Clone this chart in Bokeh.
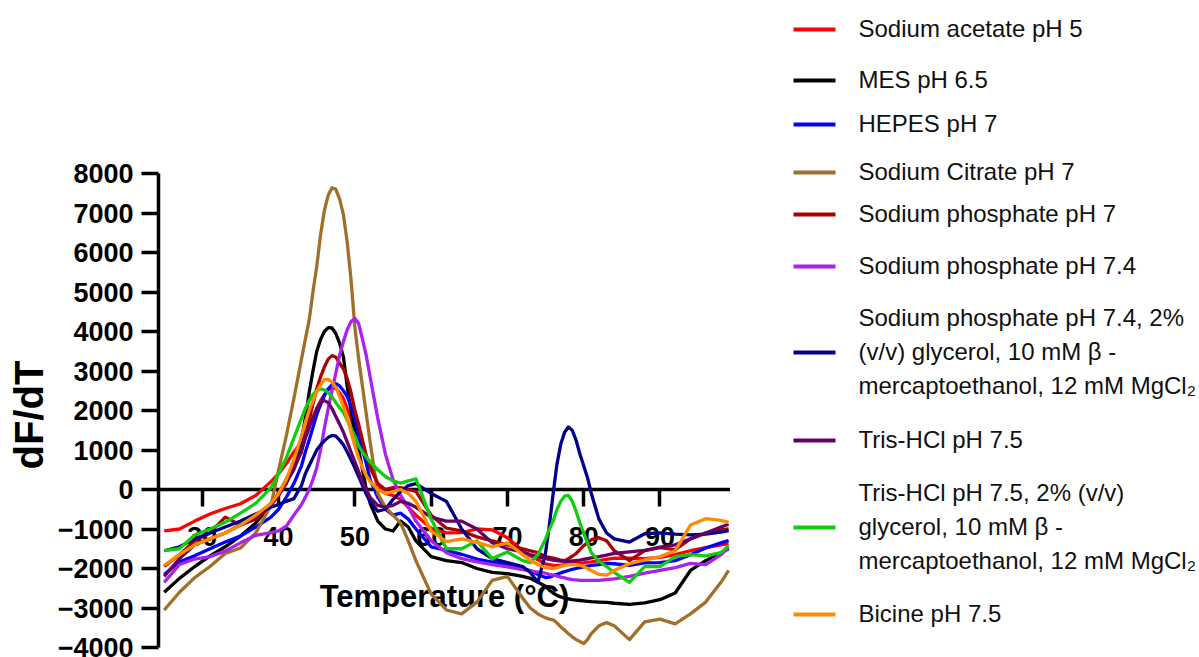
from bokeh.plotting import figure
from bokeh.models import Range1d, FixedTicker, Title
from bokeh.layouts import row
from bokeh.embed import file_html
from bokeh.resources import INLINE
from bokeh.core.properties import value

# ---------------- data ----------------
temperature = [25, 27, 29, 31, 33, 35, 37, 39, 40, 41, 42,
               43, 43.5, 44, 44.5, 45, 45.5, 46, 46.5, 47, 47.5, 48, 48.5, 49, 49.5, 50, 50.5, 51, 51.5, 52,
               53, 54, 55, 56, 57, 58, 60, 62, 64, 66, 68, 70, 72, 73, 74,
               75, 75.5, 76, 76.5, 77, 77.5, 78, 78.5, 79, 79.5, 80, 80.5, 81,
               82, 83, 84, 86, 88, 90, 92, 94, 96, 98, 99]

sodium_acetate_ph5 = [-1050, -1000, -800, -620, -480, -360, -150, 200, 400, 650, 950,
                      1200, 1400, 1600, 1820, 2050, 2250, 2400, 2520, 2570, 2560, 2450, 2300, 2050, 1800, 1500, 1250, 1050, 800, 550,
                      150, -100, -150, -250, -450, -650, -980, -1100, -1090, -1000, -1020, -1220, -1550, -1680, -1780,
                      -1880, -1900, -1920, -1920, -1920, -1900, -1890, -1880, -1880, -1870, -1860, -1840, -1830,
                      -1800, -1770, -1740, -1740, -1750, -1720, -1650, -1550, -1470, -1400, -1370]

mes_ph65 = [-2600, -2250, -1950, -1680, -1450, -1180, -850, -380, -100, 250, 650,
            1250, 1800, 2450, 3000, 3500, 3800, 4000, 4100, 4090, 3950, 3700, 3350, 2600, 2000, 1450, 1000, 500, 0, -350,
            -800, -1000, -1050, -800, -950, -1300, -1700, -1800, -1850, -2000, -2100, -2130, -2200, -2250, -2350,
            -2450, -2550, -2620, -2680, -2720, -2750, -2770, -2790, -2800, -2810, -2820, -2830, -2840,
            -2850, -2860, -2880, -2910, -2870, -2790, -2620, -2050, -1800, -1600, -1500]

hepes_ph7 = [-2150, -1830, -1680, -1500, -1330, -1180, -950, -700, -500, -200, 150,
             600, 950, 1250, 1570, 1900, 2150, 2380, 2550, 2650, 2680, 2620, 2500, 2350, 2100, 1800, 1400, 1000, 650, 250,
             -200, -500, -650, -600, -750, -1000, -1450, -1540, -1640, -1760, -1840, -1920, -2000, -2050, -2150,
             -2230, -2220, -2180, -2150, -2110, -2080, -2050, -2020, -2000, -1980, -1960, -1940, -1920,
             -1900, -1870, -1880, -1920, -1860, -1850, -1800, -1650, -1480, -1350, -1290]

sodium_citrate_ph7 = [-3050, -2600, -2230, -1950, -1620, -1480, -1100, -400, 500, 1350, 2300,
                      3300, 3800, 4280, 5000, 5650, 6450, 7060, 7450, 7640, 7600, 7350, 6950, 6250, 5300, 4100, 3300, 2600, 1900, 1200,
                      -100, -450, -650, -850, -1300, -1800, -2650, -3050, -3150, -2850, -2300, -2200, -2750, -3000, -3150,
                      -3250, -3280, -3300, -3380, -3480, -3560, -3650, -3730, -3800, -3850, -3900, -3800, -3650,
                      -3450, -3370, -3450, -3800, -3350, -3280, -3400, -3150, -2850, -2350, -2050]

sodium_phosphate_ph7 = [-1950, -1650, -1300, -1100, -700, -900, -750, -400, -150, 150, 550,
                        950, 1350, 1750, 2170, 2550, 2850, 3100, 3300, 3390, 3350, 3200, 3050, 2800, 2450, 2000, 1650, 1250, 850, 600,
                        150, 0, 50, 50, 0, -50, -650, -980, -1050, -1200, -1300, -1400, -1500, -1550, -1600,
                        -1700, -1720, -1740, -1760, -1790, -1800, -1750, -1690, -1620, -1520, -1420, -1350, -1270,
                        -1220, -1300, -1550, -1800, -1550, -1470, -1520, -1250, -1100, -1020, -1000]

sodium_phosphate_ph74 = [-2350, -1900, -1760, -1700, -1560, -1350, -1160, -1090, -1050, -930, -650,
                         -380, -200, 0, 250, 550, 1000, 1550, 2050, 2500, 2950, 3400, 3750, 4050, 4250, 4330, 4200, 3800, 3380, 2850,
                         1800, 900, 250, -150, -450, -800, -1300, -1600, -1750, -1830, -1900, -1960, -2030, -2060, -2090,
                         -2120, -2150, -2170, -2190, -2220, -2240, -2260, -2280, -2290, -2300, -2300, -2300, -2300,
                         -2300, -2280, -2260, -2200, -2120, -2050, -1980, -1870, -1900, -1650, -1470]

sodium_phosphate_ph74_additives = [-1550, -1450, -1250, -1100, -950, -800, -620, -450, -380, -300, -230,
                                   100, 400, 600, 800, 1000, 1130, 1230, 1320, 1370, 1350, 1250, 1130, 950, 750, 550, 330, 100, -120, -300,
                                   -550, -500, -250, -50, 100, 150, -100, -300, -1000, -1500, -1750, -1850, -1950, -2100, -2350,
                                   -1600, -900, -100, 650, 1150, 1450, 1580, 1500, 1250, 900, 600, 300, -100,
                                   -750, -1100, -1250, -1330, -1120, -1100, -1130, -1150, -1130, -1080, -1040]

tris_hcl_ph75 = [-2200, -1750, -1400, -1250, -1100, -900, -700, -350, -100, 200, 500,
                 1000, 1300, 1550, 1800, 2050, 2200, 2250, 2200, 2050, 1850, 1650, 1450, 1200, 950, 700, 450, 200, 0, -200,
                 -400, -450, -400, -300, -350, -450, -700, -800, -800, -1000, -1350, -1500, -1580, -1650, -1700,
                 -1750, -1770, -1790, -1800, -1810, -1820, -1820, -1810, -1800, -1790, -1770, -1750, -1730,
                 -1700, -1660, -1620, -1580, -1540, -1460, -1400, -1250, -1100, -950, -880]

tris_hcl_ph75_additives = [-1550, -1500, -1150, -1000, -830, -600, -350, 50, 400, 800, 1300,
                           1800, 2050, 2250, 2400, 2500, 2550, 2520, 2450, 2350, 2200, 2070, 1950, 1750, 1550, 1350, 1100, 950, 820, 700,
                           500, 330, 220, 160, 220, 270, -750, -1500, -1500, -1300, -1750, -1580, -1800, -1850, -1650,
                           -1250, -1000, -800, -500, -300, -170, -150, -300, -550, -850, -1100, -1350, -1600,
                           -1820, -1950, -2100, -2350, -1950, -1950, -1700, -1650, -1680, -1600, -1420]

bicine_ph75 = [-1920, -1650, -1400, -1250, -1100, -900, -650, -350, -100, 250, 750,
               1350, 1700, 2000, 2250, 2480, 2650, 2780, 2790, 2720, 2590, 2350, 2100, 1800, 1450, 1100, 800, 550, 350, 200,
               0, -100, -50, 0, -100, -300, -1050, -1320, -1250, -1340, -1450, -1350, -1650, -1800, -1900,
               -1980, -1990, -2000, -1980, -1950, -1920, -1900, -1900, -1900, -1920, -1950, -2000, -2050,
               -2150, -2170, -2050, -1880, -1780, -1700, -1550, -900, -740, -780, -830]

series_labels = [
    ["Sodium acetate pH 5"],
    ["MES pH 6.5"],
    ["HEPES pH 7"],
    ["Sodium Citrate pH 7"],
    ["Sodium phosphate pH 7"],
    ["Sodium phosphate pH 7.4"],
    ["Sodium phosphate pH 7.4, 2%", "(v/v) glycerol, 10 mM \u03b2 -", "mercaptoethanol, 12 mM MgCl\u2082"],
    ["Tris-HCl pH 7.5"],
    ["Tris-HCl pH 7.5, 2% (v/v)", "glycerol, 10 mM \u03b2 -", "mercaptoethanol, 12 mM MgCl\u2082"],
    ["Bicine pH 7.5"],
]
series_values = [sodium_acetate_ph5, mes_ph65, hepes_ph7, sodium_citrate_ph7, sodium_phosphate_ph7,
                 sodium_phosphate_ph74, sodium_phosphate_ph74_additives, tris_hcl_ph75,
                 tris_hcl_ph75_additives, bicine_ph75]
series_colors = ["#FF0000", "#000000", "#0000FF", "#A0702B", "#AA0000",
                 "#AA22EE", "#00008B", "#660066", "#11CC11", "#FF8C00"]

x_ticks = [30, 40, 50, 60, 70, 80, 90]
y_ticks = [-4000, -3000, -2000, -1000, 0, 1000, 2000, 3000, 4000, 5000, 6000, 7000, 8000]
y_axis_bounds = (-4000, 8000)
x_title = "Temperature (\u00b0C)"
y_title = "dF/dT"

for s in series_values:
    assert len(s) == len(temperature), len(s)

# ---------------- main plot ----------------
FONT = "Liberation Sans"
H = 657
FRAME_LEFT = 155
X0, X1 = 24.25, 99.25
px_per_unit = 474.0 / 12000.0
y_lo = -4000 - 10 / px_per_unit
y_hi = 8000 + 173 / px_per_unit

p = figure(width=730, height=H, x_range=Range1d(X0, X1), y_range=Range1d(y_lo, y_hi),
           output_backend="svg", toolbar_location=None,
           min_border_left=FRAME_LEFT, min_border_right=0, min_border_top=0, min_border_bottom=0)
p.outline_line_color = None
p.grid.visible = False
p.background_fill_color = "white"

for vals, col in zip(series_values, series_colors):
    p.line(temperature, vals, line_color=col, line_width=3.3, line_join="round")

for ax in (p.xaxis[0], p.yaxis[0]):
    ax.axis_line_width = 3.5
    ax.axis_line_color = "black"
    ax.major_tick_line_width = 3.5
    ax.major_tick_line_color = "black"
    ax.major_tick_out = 17
    ax.major_tick_in = 0
    ax.minor_tick_line_color = None
    ax.major_label_text_font = FONT
    ax.major_label_text_font_style = "bold"
    ax.major_label_text_font_size = "27px"
    ax.major_label_text_color = "black"
    ax.axis_label_text_font = FONT
    ax.axis_label_text_font_style = "bold"
    ax.axis_label_text_color = "black"

xa = p.xaxis[0]
xa.fixed_location = 0
xa.level = "underlay"
xa.ticker = FixedTicker(ticks=x_ticks)
xa.major_label_standoff = 20
xa.axis_label = x_title
xa.axis_label_text_font_size = "31px"
xa.axis_label_standoff = 30

ya = p.yaxis[0]
ya.bounds = y_axis_bounds
ya.ticker = FixedTicker(ticks=y_ticks)
ya.major_label_standoff = 8

# y title placed in the left panel, starting ~188 px above the bottom so it is centred on the bounded axis
p.add_layout(Title(text=y_title, align="left", offset=188, standoff=8,
                   text_font=FONT, text_font_style="bold", text_font_size="40px",
                   text_color="black"), "left")

# ---------------- legend panel ----------------
lg = figure(width=469, height=H, x_range=Range1d(730, 1199), y_range=Range1d(H, 0),
            output_backend="svg", toolbar_location=None, min_border=0,
            x_axis_location=None, y_axis_location=None)
lg.outline_line_color = None
lg.grid.visible = False

legend_rows_y = [29, 80, 124, 172, 214, 266, 352, 440, 527, 614]
line_gap = 34
sw_x0, sw_x1, text_x = 793, 835, 858

lg.segment(x0=[sw_x0] * len(legend_rows_y), x1=[sw_x1] * len(legend_rows_y),
           y0=legend_rows_y, y1=legend_rows_y, line_color=series_colors, line_width=4)

tx, ty, tt = [], [], []
for labels, yc in zip(series_labels, legend_rows_y):
    n = len(labels)
    for i, lab in enumerate(labels):
        tx.append(text_x)
        ty.append(yc + (i - (n - 1) / 2) * line_gap - 1)
        tt.append(lab)
lg.text(x=tx, y=ty, text=tt, text_font=value(FONT), text_font_size="24px",
        text_baseline="middle", text_align="left", text_color="#111111")

layout = row(p, lg)
open("out.html", "w").write(file_html(layout, INLINE))
